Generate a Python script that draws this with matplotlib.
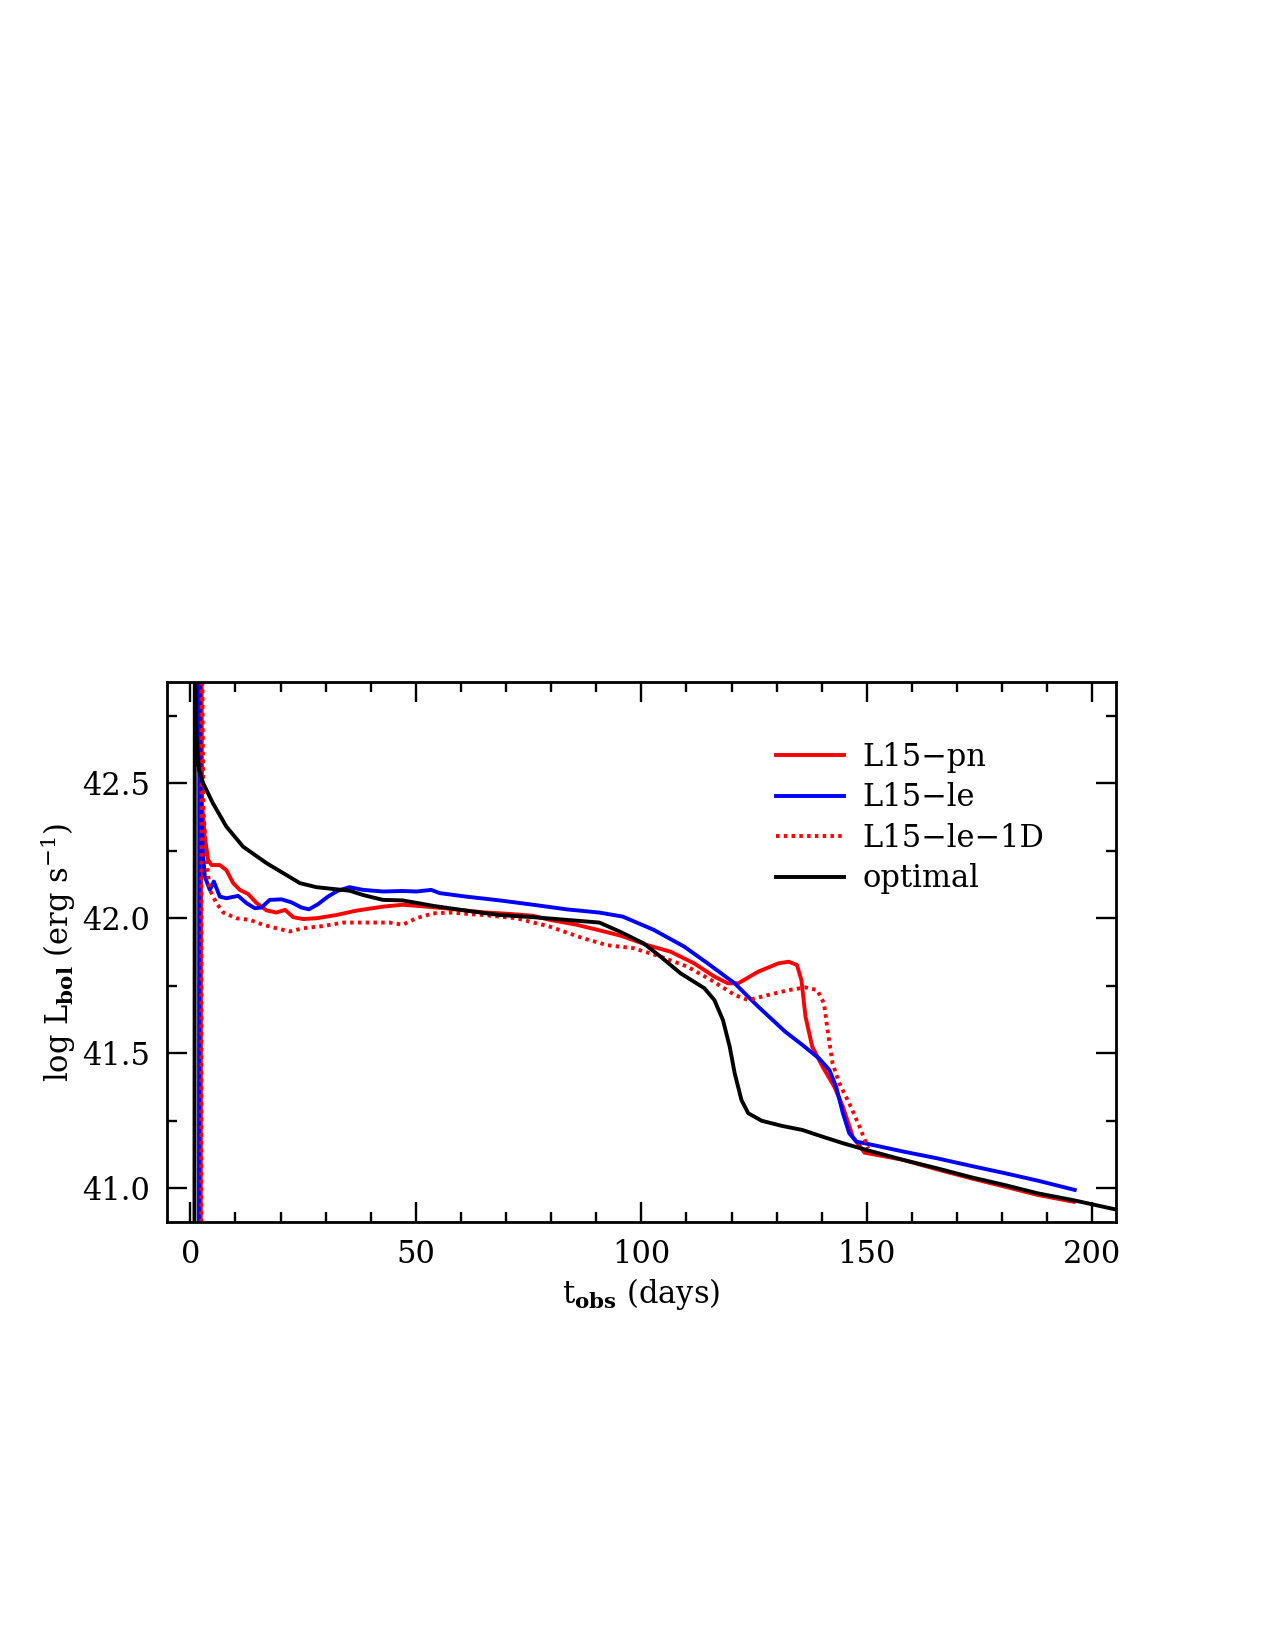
import matplotlib
matplotlib.use("Agg")
import matplotlib.pyplot as plt
from matplotlib.ticker import MultipleLocator

plt.rcParams.update({
    "font.family": ["DejaVu Serif"],
    "mathtext.fontset": "dejavuserif",
    "font.size": 22,
    "axes.linewidth": 2.0,
})

# ---- data (t_obs in days, log L_bol) ----
t_pn = [2.3, 2.4, 2.6, 3.21, 3.95, 4.69, 6.54, 8.0, 9.5, 10.97, 12.8, 14.7, 16.9, 19.1, 21.0,
        22.8, 25.0, 27.96, 32.4, 36.8, 42.7, 47.1, 52.3, 57.5, 64.9, 70.8, 76.0, 79.7, 85.6,
        90.8, 95.5, 101.25, 106.5, 111.7, 116.2, 119.2, 121.5, 125.9, 130.4, 132.7, 134.5,
        135.5, 136.4, 137.9, 140.2, 142.8, 144.7, 146.9, 149.5, 158.1, 165.6, 173.1, 180.6,
        188.0, 195.9]
L_pn = [40.5, 43.2, 42.426, 42.302, 42.216, 42.197, 42.197, 42.178, 42.13, 42.105, 42.09,
        42.056, 42.029, 42.021, 42.031, 42.004, 41.997, 42.0, 42.012, 42.028, 42.043, 42.05,
        42.043, 42.035, 42.022, 42.016, 42.009, 41.994, 41.976, 41.955, 41.935, 41.901,
        41.876, 41.833, 41.784, 41.759, 41.759, 41.802, 41.833, 41.839, 41.827, 41.771,
        41.636, 41.524, 41.45, 41.376, 41.302, 41.191, 41.132, 41.105, 41.07, 41.037,
        41.006, 40.975, 40.95]

t_le = [1.9, 2.0, 2.3, 2.84, 3.21, 4.32, 5.21, 6.54, 8.02, 10.6, 12.45, 14.3, 15.8, 17.6,
        20.2, 22.4, 24.6, 26.3, 28.3, 30.5, 32.7, 35.3, 38.3, 42.7, 47.1, 50.1, 53.4, 55.3,
        61.2, 68.6, 76.0, 83.4, 90.7, 95.9, 102.75, 109.5, 114.7, 120.7, 125.9, 131.9, 135.7,
        139.4, 141.7, 143.2, 144.7, 146.1, 147.65, 150.6, 158.1, 165.6, 173.1, 180.6, 188.0,
        196.1]
L_le = [40.5, 43.2, 42.45, 42.228, 42.154, 42.105, 42.136, 42.08, 42.074, 42.083, 42.056,
        42.037, 42.04, 42.068, 42.07, 42.059, 42.04, 42.033, 42.052, 42.08, 42.102, 42.115,
        42.105, 42.099, 42.101, 42.099, 42.105, 42.093, 42.08, 42.066, 42.05, 42.033, 42.021,
        42.006, 41.957, 41.895, 41.833, 41.759, 41.673, 41.58, 41.531, 41.481, 41.438,
        41.376, 41.278, 41.204, 41.173, 41.163, 41.136, 41.111, 41.083, 41.056, 41.028,
        40.994]

t_1d = [2.4, 2.5, 2.9, 3.58, 4.32, 5.8, 7.3, 10.2, 13.2, 16.1, 19.1, 22.05, 25.0, 29.4,
        33.9, 39.0, 44.2, 47.1, 50.1, 53.8, 57.5, 64.9, 72.3, 79.7, 87.1, 92.5, 98.3, 104.25,
        110.2, 115.5, 120.7, 123.7, 128.2, 132.7, 136.4, 139.0, 140.5, 141.3, 142.4, 143.9,
        146.1, 148.4, 150.3]
L_1d = [40.5, 43.2, 42.401, 42.216, 42.105, 42.056, 42.021, 42.0, 41.994, 41.976, 41.963,
        41.951, 41.963, 41.971, 41.984, 41.984, 41.984, 41.976, 42.0, 42.018, 42.021, 42.012,
        42.0, 41.969, 41.926, 41.9, 41.889, 41.858, 41.821, 41.771, 41.716, 41.697, 41.716,
        41.734, 41.744, 41.734, 41.685, 41.586, 41.463, 41.389, 41.315, 41.228, 41.148]

t_opt = [0.9, 1.0, 1.35, 1.93, 2.84, 5.0, 8.0, 11.7, 16.9, 20.6, 24.3, 27.96, 35.3, 38.3,
         42.7, 47.1, 53.8, 61.2, 68.6, 76.0, 83.4, 90.7, 95.3, 100.5, 104.25, 108.7, 113.97,
         116.2, 118.1, 119.6, 120.7, 122.2, 123.7, 126.7, 131.2, 135.7, 140.2, 144.7, 149.9,
         158.1, 165.6, 173.1, 180.6, 188.0, 195.5, 205.1, 208.0]
L_opt = [40.5, 43.2, 42.67, 42.549, 42.5, 42.426, 42.339, 42.265, 42.204, 42.167, 42.13,
         42.115, 42.102, 42.086, 42.068, 42.066, 42.046, 42.028, 42.012, 42.004, 41.994,
         41.984, 41.95, 41.907, 41.858, 41.796, 41.741, 41.697, 41.623, 41.524, 41.426,
         41.327, 41.278, 41.25, 41.231, 41.216, 41.191, 41.167, 41.142, 41.105, 41.074,
         41.041, 41.012, 40.981, 40.957, 40.922, 40.912]

LABELS = ["L15\u2212pn", "L15\u2212le", "L15\u2212le\u22121D", "optimal"]


def main() -> None:
    fig = plt.figure(figsize=(12.75, 16.5), dpi=100)
    ax = fig.add_axes([0.1309, 0.2592, 0.7442, 0.3275])

    lw = 2.8
    ax.plot(t_pn, L_pn, color="red", lw=lw, label=LABELS[0])
    ax.plot(t_le, L_le, color="blue", lw=lw, label=LABELS[1])
    ax.plot(t_1d, L_1d, color="red", lw=lw, dashes=(0.9, 1.1), label=LABELS[2])
    ax.plot(t_opt, L_opt, color="black", lw=lw, label=LABELS[3])

    ax.set_xlim(-5.2, 205.2)
    ax.set_ylim(40.874, 42.875)

    ax.xaxis.set_major_locator(MultipleLocator(50))
    ax.xaxis.set_minor_locator(MultipleLocator(10))
    ax.yaxis.set_major_locator(MultipleLocator(0.5))
    ax.yaxis.set_minor_locator(MultipleLocator(0.25))
    ax.yaxis.set_major_formatter(plt.FormatStrFormatter("%.1f"))
    ax.tick_params(which="both", direction="in", top=True, right=True, width=1.7, pad=12)
    ax.tick_params(which="major", length=14.4)
    ax.tick_params(which="minor", length=7.2)

    ax.set_xlabel(r"$\mathrm{t}_{\mathbf{obs}}$ (days)", labelpad=4)
    ax.set_ylabel(r"log L$_{\mathbf{bol}}$ (erg s$^{-1}$)", labelpad=3)

    ax.legend(loc="upper left", bbox_to_anchor=(0.6424, 0.889), frameon=False,
              borderpad=0, borderaxespad=0, handlelength=2.21, handletextpad=0.61,
              labelspacing=0.31)

    plt.savefig("out.png", dpi=100)
    plt.close()


if True:
    main()
